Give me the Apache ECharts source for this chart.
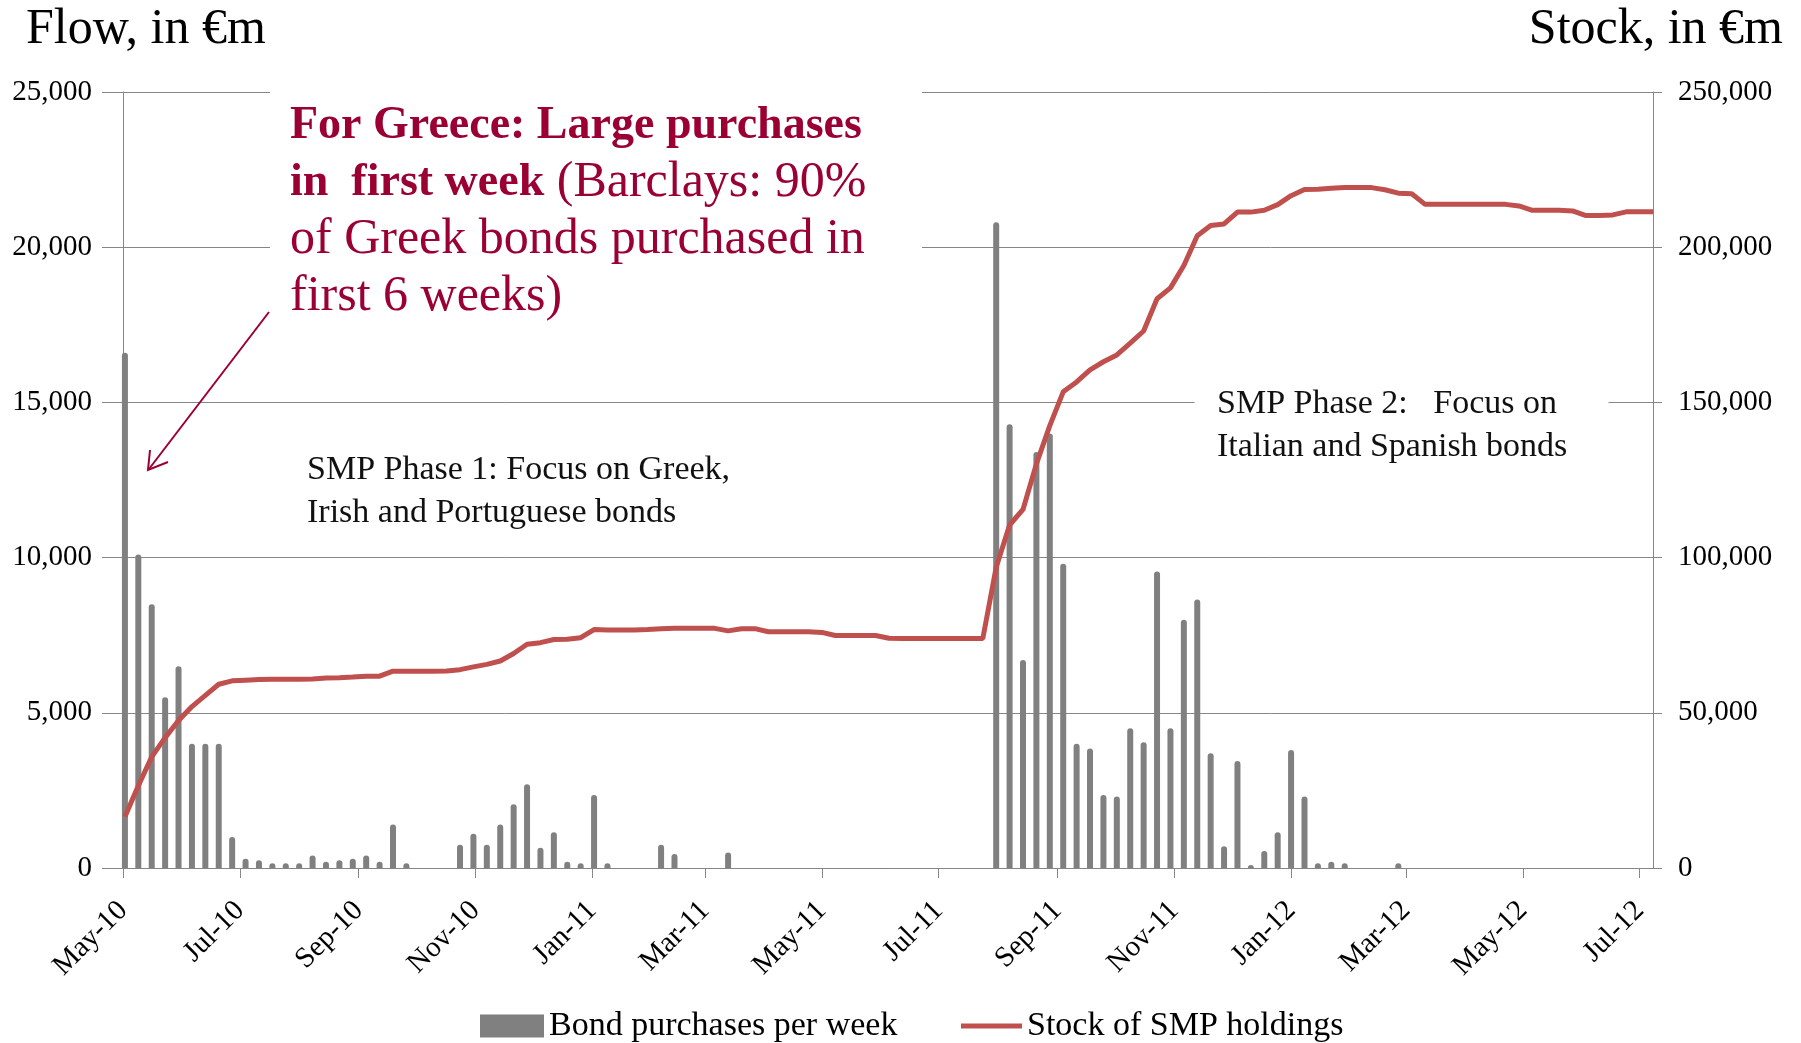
<!DOCTYPE html>
<html>
<head>
<meta charset="utf-8">
<script src="https://cdn.jsdelivr.net/npm/echarts@6/dist/echarts.min.js"></script>
<style>
  html, body { margin: 0; padding: 0; background: #fff; }
  #chart { width: 1801px; height: 1043px; }
</style>
</head>
<body>
<div id="chart"></div>
<script>
// Weekly SMP bond purchases (flow, €m) and stock of holdings (€m), first week dated 2 May 2010
const firstWeek = '2010-05-02';
const axisStart = '2010-05-01';
const axisEnd = '2012-07-08';

const flowValues = [
  16600, 10100, 8500, 5500, 6500, 4000, 4000, 4000, 1000, 300,
  250, 150, 150, 150, 400, 200, 250, 300, 400, 200,
  1400, 150, 0, 0, 0, 750, 1100, 750, 1400, 2050,
  2700, 650, 1150, 200, 150, 2350, 150, 0, 0, 0,
  750, 450, 0, 0, 0, 500, 0, 0, 0, 0,
  0, 0, 0, 0, 0, 0, 0, 0, 0, 0,
  0, 0, 0, 0, 0, 20800, 14300, 6700, 13400, 14000,
  9800, 4000, 3850, 2350, 2300, 4500, 4050, 9550, 4500, 8000,
  8650, 3700, 700, 3450, 100, 550, 1150, 3800, 2300, 150,
  200, 150, 0, 0, 0, 150, 0, 0, 0, 0,
  0, 0, 0, 0, 0, 0, 0, 0, 0, 0,
  0, 0, 0, 0, 0
];

const stockValues = [
  16500, 26500, 35800, 42000, 47500, 52000, 55600, 59200, 60300, 60500,
  60700, 60800, 60800, 60800, 60900, 61200, 61300, 61500, 61800, 61800,
  63400, 63400, 63400, 63400, 63500, 63900, 64800, 65600, 66700, 69100,
  72100, 72600, 73600, 73700, 74200, 76800, 76700, 76700, 76700, 76800,
  77100, 77200, 77200, 77200, 77200, 76400, 77100, 77100, 76100, 76100,
  76100, 76100, 75900, 74900, 74900, 74900, 74900, 74000, 73900, 73900,
  73900, 73900, 73900, 73900, 73900, 96900, 110500, 115500, 130200, 142500,
  153400, 156600, 160500, 163100, 165300, 169100, 173000, 183400, 186900, 194100,
  203700, 207000, 207500, 211300, 211300, 211900, 213700, 216600, 218600, 218700,
  219000, 219200, 219200, 219200, 218500, 217400, 217200, 213800, 213800, 213800,
  213800, 213800, 213800, 213800, 213300, 211900, 211900, 211900, 211700, 210200,
  210200, 210400, 211400, 211400, 211400
];

const tickDates = [
  '2010-05-01', '2010-07-01', '2010-09-01', '2010-11-01', '2011-01-01',
  '2011-03-01', '2011-05-01', '2011-07-01', '2011-09-01', '2011-11-01',
  '2012-01-01', '2012-03-01', '2012-05-01', '2012-07-01'
];
const tickLabels = [
  'May-10', 'Jul-10', 'Sep-10', 'Nov-10', 'Jan-11',
  'Mar-11', 'May-11', 'Jul-11', 'Sep-11', 'Nov-11',
  'Jan-12', 'Mar-12', 'May-12', 'Jul-12'
];

const SERIF = '"Liberation Serif", "Times New Roman", serif';
const AXIS_GREY = '#868686';
const NOTE_RED = '#9b0033';
const DAY = 86400000;

const t0 = Date.parse(firstWeek);
const weekTimes = stockValues.map((_, i) => t0 + i * 7 * DAY);
const tickTimes = tickDates.map(d => Date.parse(d));
const labelOf = {};
tickTimes.forEach((t, i) => { labelOf[t] = tickLabels[i]; });

const thousands = v => Number(v).toLocaleString('en-US');

const chart = echarts.init(document.getElementById('chart'), null, { renderer: 'canvas' });

chart.setOption({
  animation: false,
  backgroundColor: '#fff',
  grid: { left: 123, right: 148, top: 92, bottom: 175, containLabel: false },
  legend: [
    {
      data: [{ name: 'Bond purchases per week', icon: 'rect' }],
      left: 480, top: 1009, padding: 0,
      itemWidth: 64, itemHeight: 23, selectedMode: false,
      textStyle: { fontFamily: SERIF, fontSize: 34, color: '#000' }
    },
    {
      data: [{ name: 'Stock of SMP holdings', icon: 'rect' }],
      left: 961, top: 1009, padding: 0,
      itemWidth: 61, itemHeight: 5, selectedMode: false,
      textStyle: { fontFamily: SERIF, fontSize: 34, color: '#000' }
    }
  ],
  xAxis: {
    type: 'value',
    min: Date.parse(axisStart),
    max: Date.parse(axisEnd),
    axisLine: { show: true, lineStyle: { color: AXIS_GREY, width: 1 } },
    axisTick: { show: true, customValues: tickTimes, length: 10, lineStyle: { color: AXIS_GREY } },
    axisLabel: {
      customValues: tickTimes,
      formatter: v => labelOf[v] || '',
      rotate: 45, margin: 38,
      fontFamily: SERIF, fontSize: 29, color: '#000'
    },
    splitLine: { show: false }
  },
  yAxis: [
    {
      type: 'value', position: 'left',
      min: 0, max: 25000, interval: 5000,
      axisLine: { show: true, lineStyle: { color: AXIS_GREY, width: 1 } },
      axisTick: { show: true, length: 21, lineStyle: { color: AXIS_GREY } },
      axisLabel: { margin: 31, fontFamily: SERIF, fontSize: 29, color: '#000', formatter: thousands },
      splitLine: { show: true, lineStyle: { color: AXIS_GREY, width: 1 } }
    },
    {
      type: 'value', position: 'right',
      min: 0, max: 250000, interval: 50000,
      axisLine: { show: true, lineStyle: { color: AXIS_GREY, width: 1 } },
      axisTick: { show: true, length: 9, lineStyle: { color: AXIS_GREY } },
      axisLabel: { margin: 25, fontFamily: SERIF, fontSize: 29, color: '#000', formatter: thousands },
      splitLine: { show: false }
    }
  ],
  series: [
    {
      name: 'Bond purchases per week',
      type: 'bar',
      yAxisIndex: 0,
      barWidth: 6,
      itemStyle: { color: '#808080', borderRadius: [3, 3, 0, 0] },
      data: weekTimes.map((t, i) => [t, flowValues[i]]),
      z: 2
    },
    {
      name: 'Stock of SMP holdings',
      type: 'line',
      yAxisIndex: 1,
      symbol: 'none',
      showSymbol: false,
      lineStyle: { color: '#C0504D', width: 5 },
      itemStyle: { color: '#C0504D' },
      data: weekTimes.map((t, i) => [t, stockValues[i]]),
      z: 3
    }
  ],
  graphic: [
    // axis titles
    { type: 'text', x: 26, y: 30, z: 100,
      style: { text: 'Flow, in €m', font: '50px ' + SERIF, fill: '#000', verticalAlign: 'middle' } },
    { type: 'text', x: 1783, y: 30, z: 100,
      style: { text: 'Stock, in €m', font: '50px ' + SERIF, fill: '#000', align: 'right', verticalAlign: 'middle' } },

    // white panels behind the notes
    { type: 'rect', z: 100, shape: { x: 270, y: 72, width: 652, height: 262 }, style: { fill: '#fff' } },
    { type: 'rect', z: 100, shape: { x: 1194.5, y: 382, width: 414, height: 86 }, style: { fill: '#fff' } },

    // Greece note
    { type: 'text', x: 290, y: 126, z: 101,
      style: { text: 'For Greece: Large purchases', font: 'bold 46px ' + SERIF, fill: NOTE_RED, verticalAlign: 'middle' } },
    { type: 'text', x: 290, y: 183, z: 101,
      style: {
        text: '{b|in  first week}{r| (Barclays: 90%}',
        verticalAlign: 'middle',
        rich: {
          b: { fontFamily: SERIF, fontSize: 46, fontWeight: 'bold', fill: NOTE_RED, color: NOTE_RED },
          r: { fontFamily: SERIF, fontSize: 50, fontWeight: 'normal', fill: NOTE_RED, color: NOTE_RED }
        }
      } },
    { type: 'text', x: 290, y: 240, z: 101,
      style: { text: 'of Greek bonds purchased in', font: '50px ' + SERIF, fill: NOTE_RED, verticalAlign: 'middle' } },
    { type: 'text', x: 290, y: 297, z: 101,
      style: { text: 'first 6 weeks)', font: '50px ' + SERIF, fill: NOTE_RED, verticalAlign: 'middle' } },

    // arrow to the first week
    { type: 'polyline', z: 101,
      shape: { points: [[269, 312], [149, 469]] },
      style: { stroke: NOTE_RED, lineWidth: 2, fill: null } },
    { type: 'polyline', z: 101,
      shape: { points: [[150, 450], [148, 470], [168, 462]] },
      style: { stroke: NOTE_RED, lineWidth: 2, fill: null } },

    // phase notes
    { type: 'text', x: 307, y: 470, z: 101,
      style: { text: 'SMP Phase 1: Focus on Greek,', font: '34px ' + SERIF, fill: '#111', verticalAlign: 'middle' } },
    { type: 'text', x: 307, y: 513, z: 101,
      style: { text: 'Irish and Portuguese bonds', font: '34px ' + SERIF, fill: '#111', verticalAlign: 'middle' } },
    { type: 'text', x: 1217, y: 404, z: 101,
      style: { text: 'SMP Phase 2:   Focus on', font: '34px ' + SERIF, fill: '#111', verticalAlign: 'middle' } },
    { type: 'text', x: 1217, y: 447, z: 101,
      style: { text: 'Italian and Spanish bonds', font: '34px ' + SERIF, fill: '#111', verticalAlign: 'middle' } }
  ]
});
</script>
</body>
</html>
